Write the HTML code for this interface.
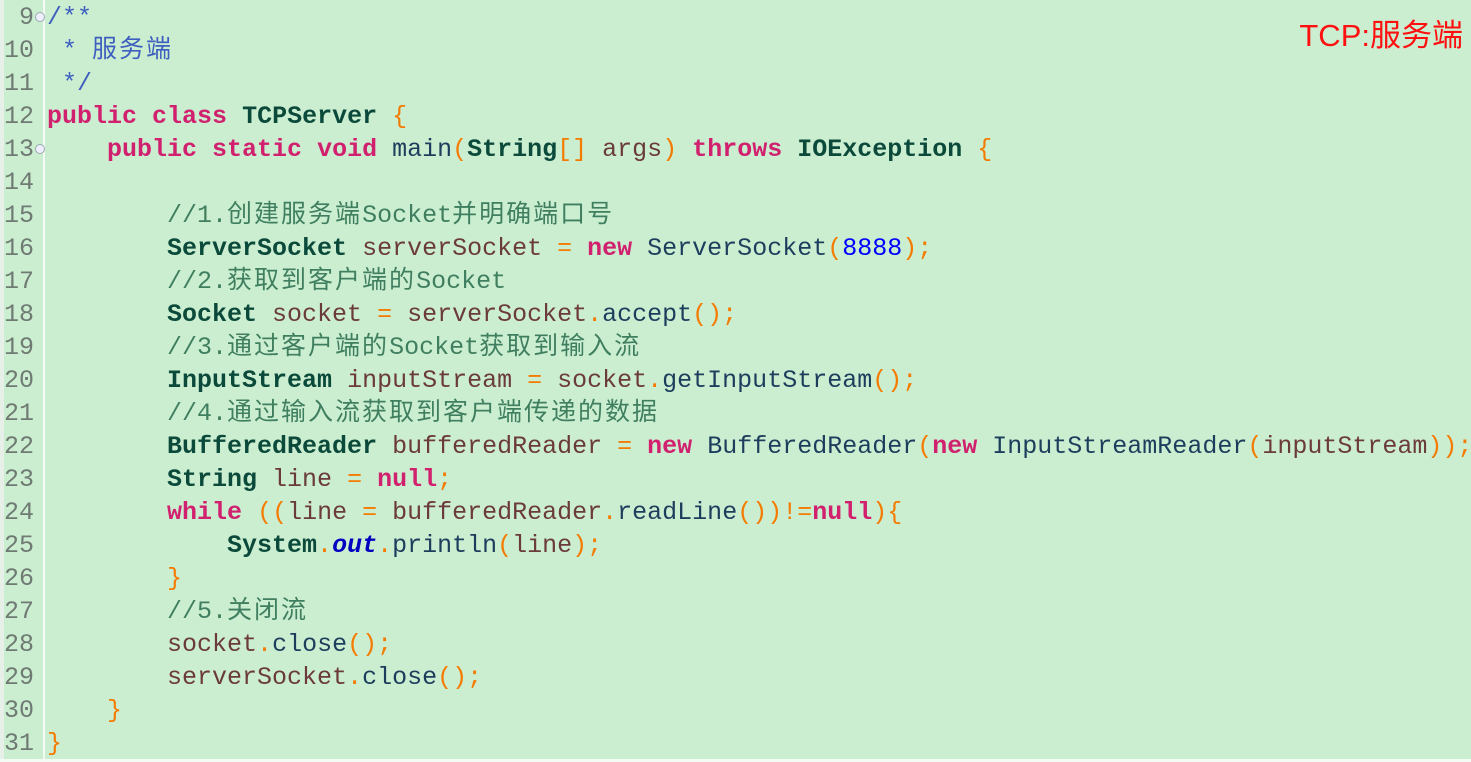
<!DOCTYPE html>
<html><head><meta charset="utf-8"><style>
html,body{margin:0;padding:0;}
body{width:1471px;height:762px;background:#cbeed1;position:relative;overflow:hidden;font-family:"Liberation Mono","Noto Sans CJK SC",monospace;font-size:25px;}
.lnbar{position:absolute;left:0;top:0;width:4px;height:762px;background:#e6efe8;}
.sep{position:absolute;left:43px;top:0;width:2px;height:760px;background:#f4fbf5;}
.bot{position:absolute;left:0;top:759px;width:1471px;height:3px;background:#f4fbf5;}
.ln{position:absolute;left:0;width:34px;text-align:right;color:#6f7a73;line-height:33px;white-space:pre;}
.c{position:absolute;left:47px;line-height:33px;white-space:pre;color:#6b3a3a;}
.fold{position:absolute;left:35px;width:8px;height:8px;border:1px solid #9aa;border-radius:50%;background:#eef;font-size:0;}
.k{color:#d0206e;font-weight:bold}
.t{color:#0b4a3a;font-weight:bold}
.p{color:#f47b00}
.m{color:#1d3d5c}
.cm{color:#3f7f5f}
.jd{color:#3f5fbf}
.n{color:#0000ff}
.o{color:#0000c0;font-weight:bold;font-style:italic}
.z{letter-spacing:2px}
.tag{position:absolute;right:8px;top:10px;color:#ff1010;font-family:"Liberation Sans","Noto Sans CJK SC",sans-serif;font-size:31px;}
</style></head><body>
<div class="lnbar"></div><div class="sep"></div><div class="bot"></div>
<div class="tag">TCP:服务端</div>
<div class="fold" style="top:12px"></div>
<div class="fold" style="top:144px"></div>

<div class="ln" style="top:1px">9</div><div class="c" style="top:1px"><span class="jd">/**</span></div>
<div class="ln" style="top:34px">10</div><div class="c" style="top:34px"><span class="jd"> * <span class="z">服务端</span></span></div>
<div class="ln" style="top:67px">11</div><div class="c" style="top:67px"><span class="jd"> */</span></div>
<div class="ln" style="top:100px">12</div><div class="c" style="top:100px"><span class="k">public</span> <span class="k">class</span> <span class="t">TCPServer</span> <span class="p">{</span></div>
<div class="ln" style="top:133px">13</div><div class="c" style="top:133px">    <span class="k">public</span> <span class="k">static</span> <span class="k">void</span> <span class="m">main</span><span class="p">(</span><span class="t">String</span><span class="p">[]</span> args<span class="p">)</span> <span class="k">throws</span> <span class="t">IOException</span> <span class="p">{</span></div>
<div class="ln" style="top:166px">14</div>
<div class="ln" style="top:199px">15</div><div class="c" style="top:199px">        <span class="cm">//1.<span class="z">创建服务端</span>Socket<span class="z">并明确端口号</span></span></div>
<div class="ln" style="top:232px">16</div><div class="c" style="top:232px">        <span class="t">ServerSocket</span> serverSocket <span class="p">=</span> <span class="k">new</span> <span class="m">ServerSocket</span><span class="p">(</span><span class="n">8888</span><span class="p">);</span></div>
<div class="ln" style="top:265px">17</div><div class="c" style="top:265px">        <span class="cm">//2.<span class="z">获取到客户端的</span>Socket</span></div>
<div class="ln" style="top:298px">18</div><div class="c" style="top:298px">        <span class="t">Socket</span> socket <span class="p">=</span> serverSocket<span class="p">.</span><span class="m">accept</span><span class="p">();</span></div>
<div class="ln" style="top:331px">19</div><div class="c" style="top:331px">        <span class="cm">//3.<span class="z">通过客户端的</span>Socket<span class="z">获取到输入流</span></span></div>
<div class="ln" style="top:364px">20</div><div class="c" style="top:364px">        <span class="t">InputStream</span> inputStream <span class="p">=</span> socket<span class="p">.</span><span class="m">getInputStream</span><span class="p">();</span></div>
<div class="ln" style="top:397px">21</div><div class="c" style="top:397px">        <span class="cm">//4.<span class="z">通过输入流获取到客户端传递的数据</span></span></div>
<div class="ln" style="top:430px">22</div><div class="c" style="top:430px">        <span class="t">BufferedReader</span> bufferedReader <span class="p">=</span> <span class="k">new</span> <span class="m">BufferedReader</span><span class="p">(</span><span class="k">new</span> <span class="m">InputStreamReader</span><span class="p">(</span>inputStream<span class="p">));</span></div>
<div class="ln" style="top:463px">23</div><div class="c" style="top:463px">        <span class="t">String</span> line <span class="p">=</span> <span class="k">null</span><span class="p">;</span></div>
<div class="ln" style="top:496px">24</div><div class="c" style="top:496px">        <span class="k">while</span> <span class="p">((</span>line <span class="p">=</span> bufferedReader<span class="p">.</span><span class="m">readLine</span><span class="p">())!=</span><span class="k">null</span><span class="p">){</span></div>
<div class="ln" style="top:529px">25</div><div class="c" style="top:529px">            <span class="t">System</span><span class="p">.</span><span class="o">out</span><span class="p">.</span><span class="m">println</span><span class="p">(</span>line<span class="p">);</span></div>
<div class="ln" style="top:562px">26</div><div class="c" style="top:562px">        <span class="p">}</span></div>
<div class="ln" style="top:595px">27</div><div class="c" style="top:595px">        <span class="cm">//5.<span class="z">关闭流</span></span></div>
<div class="ln" style="top:628px">28</div><div class="c" style="top:628px">        socket<span class="p">.</span><span class="m">close</span><span class="p">();</span></div>
<div class="ln" style="top:661px">29</div><div class="c" style="top:661px">        serverSocket<span class="p">.</span><span class="m">close</span><span class="p">();</span></div>
<div class="ln" style="top:694px">30</div><div class="c" style="top:694px">    <span class="p">}</span></div>
<div class="ln" style="top:727px">31</div><div class="c" style="top:727px"><span class="p">}</span></div>
</body></html>
